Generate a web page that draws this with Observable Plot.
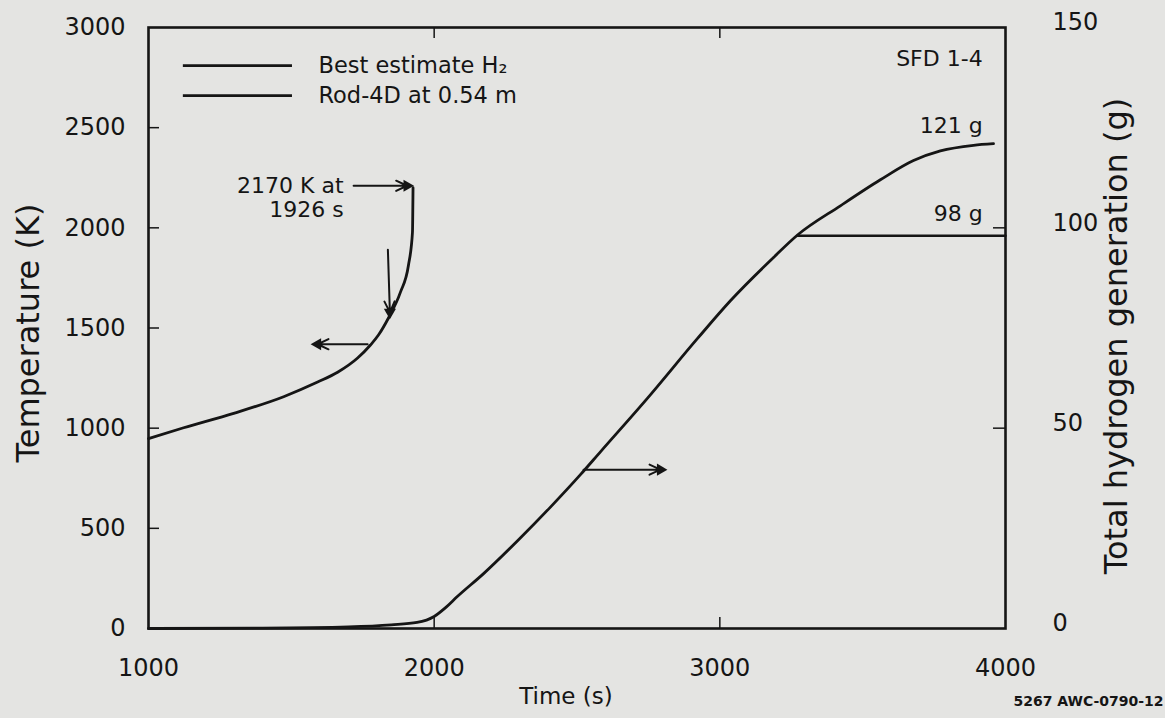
<!DOCTYPE html>
<html><head><meta charset="utf-8">
<script src="https://cdn.jsdelivr.net/npm/d3@7"></script>
<script src="https://cdn.jsdelivr.net/npm/@observablehq/plot@0.6"></script>
<style>
html,body{margin:0;padding:0;background:#e4e4e2;}
svg{display:block;}
</style></head><body><div id="chart"></div>
<script>
// ---- data ----
const timeT = [1000,1123,1298,1473,1592,1662,1732,1777,1805,1840,1882,1910,1924,1926];
const tempK = [948,1002,1074,1157,1230,1279,1350,1415,1465,1550,1679,1813,1977,2200];

const timeH2 = [1000,1400,1700,1850,1940,2000,2040,2080,2173,2292,2407,2512,2582,2747,2922,3037,3188,3272,3422,3562,3678,3772,3888,3958];
const h2g    = [0,0.1,0.4,0.9,1.5,3.0,5.2,7.9,13.7,21.9,30.3,38.4,44.1,57.5,72.4,81.8,92.6,98.2,105.5,112.0,116.8,119.2,120.6,121];

const plateauTime = [3272,4000];
const plateauG = [98,98];

const xTicks = [1000,2000,3000,4000];
const yTicksLeft = [0,500,1000,1500,2000,2500,3000];
const yTicksRight = [0,50,100,150];
const H2_TO_K = 20; // 150 g on the right axis lines up with 3000 K on the left

const legendLabels = ["Best estimate H\u2082","Rod-4D at 0.54 m"];
const legendY = [2810,2660];
const legendX = [1122,1504,1595]; // line start, line end, text start

const noteText = ["SFD 1-4","121 g","98 g","2170 K at","1926 s"];
const noteX = [3920,3920,3920,1683,1683];
const noteY = [2845,2511,2071,2211,2087];

const arrowX1 = [1718,1838,1767,2523];
const arrowY1 = [2210,1890,1419,793];
const arrowX2 = [1905,1845,1592,2792];
const arrowY2 = [2210,1578,1419,793];
const arrowAngle = [90,180,-90,90];

// ---- tables ----
const tempData = timeT.map((t,i)=>({t, v:tempK[i]}));
const h2Data = timeH2.map((t,i)=>({t, g:h2g[i]}));
const plateauData = plateauTime.map((t,i)=>({t, g:plateauG[i]}));
const legend = legendLabels.map((s,i)=>({s, y:legendY[i]}));
const notes = noteText.map((s,i)=>({s, x:noteX[i], y:noteY[i]}));
const arrows = arrowX1.map((x1,i)=>({x1, y1:arrowY1[i], x2:arrowX2[i], y2:arrowY2[i], rot:arrowAngle[i]}));

const ink = "#151515";
const FW = 1165-148-160, FH = 718-27-90;

const chart = Plot.plot({
  width:1165, height:718,
  marginLeft:148, marginRight:160, marginTop:27, marginBottom:90,
  style:{background:"#e4e4e2", fontFamily:"'DejaVu Sans', sans-serif", color:ink},
  x:{domain:[1000,4000]},
  y:{domain:[0,3000]},
  marks:[
    Plot.frame({stroke:ink, strokeWidth:2.6}),
    Plot.axisX(xTicks, {anchor:"bottom", tickSize:0, tickPadding:30, fontSize:24, tickFormat:d=>String(d), label:null}),
    Plot.axisY(yTicksLeft, {anchor:"left", tickSize:0, tickPadding:23, fontSize:24, tickFormat:d=>String(d), label:null}),
    Plot.axisY(yTicksRight.map(g=>g*H2_TO_K), {anchor:"right", tickSize:0, tickPadding:47, fontSize:24, dy:-5, tickFormat:d=>String(d/H2_TO_K), label:null}),
    // inward tick marks
    Plot.tickY(yTicksLeft.slice(1,-1), {y:d=>d, insetRight:FW-11, stroke:ink, strokeWidth:1.5}),
    Plot.tickY(yTicksRight.slice(1,-1).map(g=>g*H2_TO_K), {y:d=>d, insetLeft:FW-12, stroke:ink, strokeWidth:1.5}),
    Plot.tickX(xTicks.slice(1,-1), {x:d=>d, insetBottom:FH-11, stroke:ink, strokeWidth:1.5}),
    Plot.tickX(xTicks.slice(1,-1), {x:d=>d, insetTop:FH-11, stroke:ink, strokeWidth:1.5}),
    // curves
    Plot.line(h2Data, {x:"t", y:d=>d.g*H2_TO_K, stroke:ink, strokeWidth:2.8, curve:"monotone-x"}),
    Plot.line(plateauData, {x:"t", y:d=>d.g*H2_TO_K, stroke:ink, strokeWidth:2.5}),
    Plot.line(tempData, {x:"t", y:"v", stroke:ink, strokeWidth:2.8, curve:"monotone-x"}),
    // arrows with filled heads
    Plot.arrow(arrows, {x1:"x1", y1:"y1", x2:"x2", y2:"y2", stroke:ink, strokeWidth:2, headLength:9, headAngle:50}),
    Plot.dot(arrows, {x:"x2", y:"y2", symbol:"triangle", r:4.5, fill:ink, stroke:"none", rotate:"rot"}),
    // legend
    Plot.ruleY(legend, {y:"y", x1:legendX[0], x2:legendX[1], stroke:ink, strokeWidth:2.8}),
    Plot.text(legend, {y:"y", x:legendX[2], text:"s", textAnchor:"start", fontSize:22.5}),
    // annotations
    Plot.text(notes, {x:"x", y:"y", text:"s", textAnchor:"end", fontSize:22}),
    // axis titles
    Plot.text(["Temperature (K)"], {text:d=>d, frameAnchor:"left", textAnchor:"middle", dx:-120, dy:5, rotate:-90, fontSize:32, letterSpacing:3}),
    Plot.text(["Total hydrogen generation (g)"], {text:d=>d, frameAnchor:"right", textAnchor:"middle", dx:111, dy:8, rotate:-90, fontSize:32, letterSpacing:3}),
    Plot.text(["Time (s)"], {text:d=>d, frameAnchor:"bottom", textAnchor:"middle", dx:-11, dy:75, fontSize:23}),
    Plot.text(["5267 AWC-0790-12"], {text:d=>d, frameAnchor:"bottom-right", textAnchor:"middle", dx:83, dy:77, fontSize:14, fontWeight:"bold"})
  ]
});
document.getElementById("chart").append(chart);
</script></body></html>
